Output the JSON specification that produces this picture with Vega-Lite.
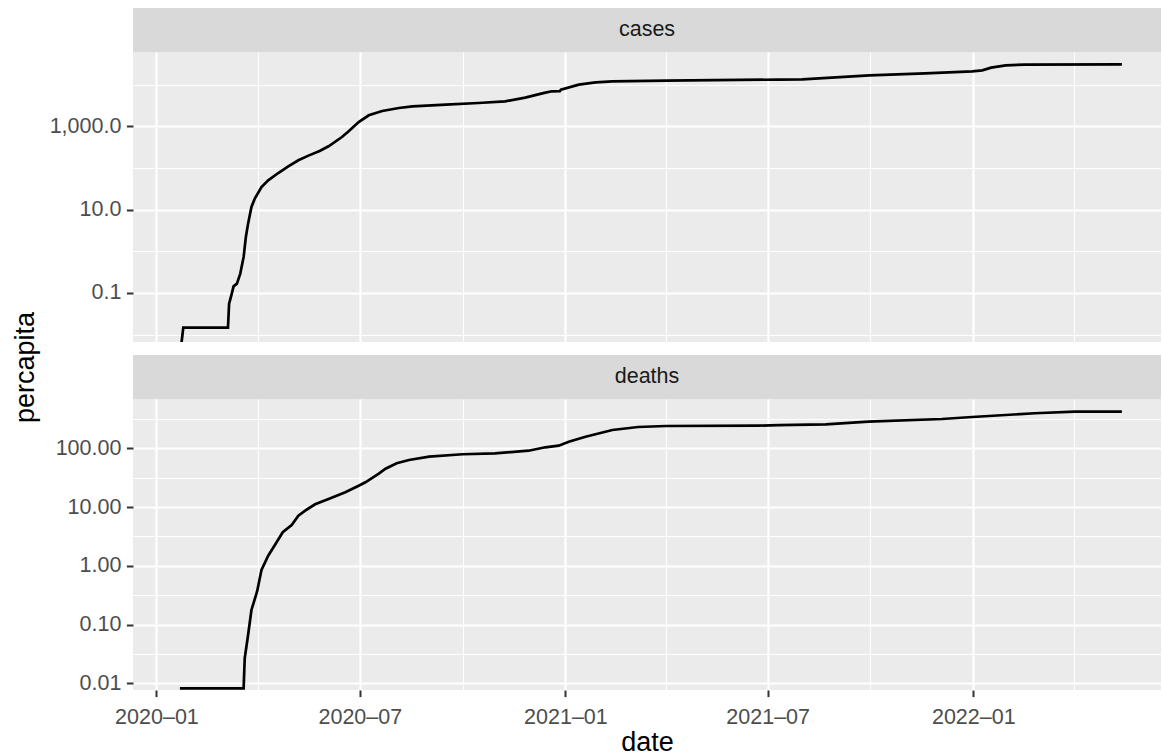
{
  "$schema": "https://vega.github.io/schema/vega-lite/v6.json",
  "padding": {"left": 12, "top": 8, "right": 0, "bottom": 0},
  "background": "white",
  "title": {"text": "percapita", "orient": "left", "anchor": "middle", "fontSize": 27, "fontWeight": "normal", "color": "black", "offset": 9, "dx": 14},
  "config": {
    "font": "Liberation Sans",
    "view": {"stroke": null, "fill": "#EBEBEB"},
    "concat": {"spacing": 9}
  },
  "datasets": {
    "strips": [{"panel": "cases"}, {"panel": "deaths"}],
    "covid": [
      {"date": "2020-01-22", "panel": "cases", "percapita": 0.003},
      {"date": "2020-01-25", "panel": "cases", "percapita": 0.0148},
      {"date": "2020-03-05", "panel": "cases", "percapita": 0.0148},
      {"date": "2020-03-06", "panel": "cases", "percapita": 0.0556},
      {"date": "2020-03-08", "panel": "cases", "percapita": 0.0879},
      {"date": "2020-03-10", "panel": "cases", "percapita": 0.1445},
      {"date": "2020-03-13", "panel": "cases", "percapita": 0.168},
      {"date": "2020-03-16", "panel": "cases", "percapita": 0.292},
      {"date": "2020-03-19", "panel": "cases", "percapita": 0.73},
      {"date": "2020-03-21", "panel": "cases", "percapita": 2.2},
      {"date": "2020-03-23", "panel": "cases", "percapita": 4.62},
      {"date": "2020-03-26", "panel": "cases", "percapita": 11.6},
      {"date": "2020-03-29", "panel": "cases", "percapita": 18.4},
      {"date": "2020-04-04", "panel": "cases", "percapita": 34.9},
      {"date": "2020-04-10", "panel": "cases", "percapita": 50.6},
      {"date": "2020-04-19", "panel": "cases", "percapita": 75.7},
      {"date": "2020-04-28", "panel": "cases", "percapita": 109.7},
      {"date": "2020-05-07", "panel": "cases", "percapita": 152.8},
      {"date": "2020-05-16", "panel": "cases", "percapita": 198},
      {"date": "2020-05-26", "panel": "cases", "percapita": 255},
      {"date": "2020-06-03", "panel": "cases", "percapita": 331},
      {"date": "2020-06-15", "panel": "cases", "percapita": 553},
      {"date": "2020-06-21", "panel": "cases", "percapita": 758},
      {"date": "2020-06-30", "panel": "cases", "percapita": 1268},
      {"date": "2020-07-09", "panel": "cases", "percapita": 1837},
      {"date": "2020-07-21", "panel": "cases", "percapita": 2328},
      {"date": "2020-08-05", "panel": "cases", "percapita": 2748},
      {"date": "2020-08-17", "panel": "cases", "percapita": 3020},
      {"date": "2020-09-16", "panel": "cases", "percapita": 3318},
      {"date": "2020-10-15", "panel": "cases", "percapita": 3623},
      {"date": "2020-11-08", "panel": "cases", "percapita": 3981},
      {"date": "2020-11-26", "panel": "cases", "percapita": 4887},
      {"date": "2020-12-14", "panel": "cases", "percapita": 6440},
      {"date": "2020-12-20", "panel": "cases", "percapita": 6918},
      {"date": "2020-12-27", "panel": "cases", "percapita": 6930},
      {"date": "2020-12-28", "panel": "cases", "percapita": 7605},
      {"date": "2021-01-13", "panel": "cases", "percapita": 10020},
      {"date": "2021-01-28", "panel": "cases", "percapita": 11380},
      {"date": "2021-02-12", "panel": "cases", "percapita": 12020},
      {"date": "2021-04-01", "panel": "cases", "percapita": 12500},
      {"date": "2021-07-11", "panel": "cases", "percapita": 13210},
      {"date": "2021-08-01", "panel": "cases", "percapita": 13420},
      {"date": "2021-09-30", "panel": "cases", "percapita": 16760},
      {"date": "2021-11-19", "panel": "cases", "percapita": 18710},
      {"date": "2021-12-31", "panel": "cases", "percapita": 20890},
      {"date": "2022-01-09", "panel": "cases", "percapita": 22080},
      {"date": "2022-01-17", "panel": "cases", "percapita": 25640},
      {"date": "2022-01-30", "panel": "cases", "percapita": 29110},
      {"date": "2022-02-16", "panel": "cases", "percapita": 30260},
      {"date": "2022-05-14", "panel": "cases", "percapita": 30500},
      {"date": "2020-01-22", "panel": "deaths", "percapita": 0.00822},
      {"date": "2020-03-19", "panel": "deaths", "percapita": 0.00822},
      {"date": "2020-03-20", "panel": "deaths", "percapita": 0.0267},
      {"date": "2020-03-23", "panel": "deaths", "percapita": 0.0664},
      {"date": "2020-03-26", "panel": "deaths", "percapita": 0.177},
      {"date": "2020-03-31", "panel": "deaths", "percapita": 0.362},
      {"date": "2020-04-04", "panel": "deaths", "percapita": 0.849},
      {"date": "2020-04-10", "panel": "deaths", "percapita": 1.486},
      {"date": "2020-04-16", "panel": "deaths", "percapita": 2.26},
      {"date": "2020-04-23", "panel": "deaths", "percapita": 3.72},
      {"date": "2020-05-01", "panel": "deaths", "percapita": 4.95},
      {"date": "2020-05-07", "panel": "deaths", "percapita": 7.12},
      {"date": "2020-05-14", "panel": "deaths", "percapita": 8.91},
      {"date": "2020-05-22", "panel": "deaths", "percapita": 11.14},
      {"date": "2020-06-03", "panel": "deaths", "percapita": 13.71},
      {"date": "2020-06-18", "panel": "deaths", "percapita": 17.82},
      {"date": "2020-06-30", "panel": "deaths", "percapita": 23.1},
      {"date": "2020-07-06", "panel": "deaths", "percapita": 26.4},
      {"date": "2020-07-18", "panel": "deaths", "percapita": 37.0},
      {"date": "2020-07-24", "panel": "deaths", "percapita": 45.0},
      {"date": "2020-08-03", "panel": "deaths", "percapita": 55.6},
      {"date": "2020-08-14", "panel": "deaths", "percapita": 63.2},
      {"date": "2020-09-01", "panel": "deaths", "percapita": 71.9},
      {"date": "2020-10-01", "panel": "deaths", "percapita": 79.1},
      {"date": "2020-10-30", "panel": "deaths", "percapita": 82.2},
      {"date": "2020-11-29", "panel": "deaths", "percapita": 91.0},
      {"date": "2020-12-14", "panel": "deaths", "percapita": 104.0},
      {"date": "2020-12-26", "panel": "deaths", "percapita": 110.7},
      {"date": "2021-01-04", "panel": "deaths", "percapita": 129.5},
      {"date": "2021-01-19", "panel": "deaths", "percapita": 157.5},
      {"date": "2021-02-12", "panel": "deaths", "percapita": 204.6},
      {"date": "2021-03-07", "panel": "deaths", "percapita": 230.6},
      {"date": "2021-04-01", "panel": "deaths", "percapita": 239.7},
      {"date": "2021-06-23", "panel": "deaths", "percapita": 243},
      {"date": "2021-07-11", "panel": "deaths", "percapita": 248},
      {"date": "2021-08-22", "panel": "deaths", "percapita": 256},
      {"date": "2021-09-29", "panel": "deaths", "percapita": 283.8},
      {"date": "2021-12-04", "panel": "deaths", "percapita": 315.3},
      {"date": "2021-12-31", "panel": "deaths", "percapita": 341},
      {"date": "2022-02-25", "panel": "deaths", "percapita": 394.6},
      {"date": "2022-04-02", "panel": "deaths", "percapita": 419.9},
      {"date": "2022-05-14", "panel": "deaths", "percapita": 421}
    ]
  },
  "spacing": 9,
  "vconcat": [
    {
      "spacing": 0,
      "vconcat": [
        {
          "data": {"name": "strips"},
          "transform": [{"filter": "datum.panel == 'cases'"}],
          "width": 1028,
          "height": 44,
          "view": {"fill": "#D9D9D9", "stroke": null},
          "mark": {"type": "text", "fontSize": 21.5, "color": "#1A1A1A", "baseline": "middle", "align": "center"},
          "encoding": {"text": {"field": "panel"}}
        },
        {
          "data": {"name": "covid"},
          "transform": [{"filter": "datum.panel == 'cases'"}],
          "width": 1028,
          "height": 290,
          "mark": {"type": "line", "color": "black", "strokeWidth": 2.7, "clip": true},
          "encoding": {
            "x": {
              "field": "date", "type": "temporal",
              "scale": {"domain": [{"year": 2019, "month": 12, "date": 11}, {"year": 2022, "month": 6, "date": 18}]},
              "axis": {
                "values": [{"year": 2020, "month": 1, "date": 1}, {"year": 2020, "month": 4, "date": 1}, {"year": 2020, "month": 7, "date": 1}, {"year": 2020, "month": 10, "date": 1}, {"year": 2021, "month": 1, "date": 1}, {"year": 2021, "month": 4, "date": 1}, {"year": 2021, "month": 7, "date": 1}, {"year": 2021, "month": 10, "date": 1}, {"year": 2022, "month": 1, "date": 1}, {"year": 2022, "month": 4, "date": 1}],
                "labels": false, "ticks": false, "domain": false, "title": null,
                "grid": true, "gridColor": "white", "gridOpacity": 1,
                "gridWidth": {"condition": {"test": "month(datum.value) % 6 == 0", "value": 2.2}, "value": 1.1}
              }
            },
            "y": {
              "field": "percapita", "type": "quantitative",
              "scale": {"type": "log", "domain": [0.00667, 60674], "nice": false},
              "axis": {
                "values": [0.01, 0.1, 1, 10, 100, 1000, 10000],
                "title": null, "domain": false,
                "grid": true, "gridColor": "white", "gridOpacity": 1,
                "gridWidth": {"condition": {"test": "abs(round(log(datum.value)/LN10)) % 2 == 1", "value": 2.2}, "value": 1.1},
                "ticks": true, "tickColor": "#333333", "tickWidth": 2, "tickSize": 6.6,
                "tickOpacity": {"condition": {"test": "abs(round(log(datum.value)/LN10)) % 2 == 1", "value": 1}, "value": 0},
                "labelExpr": "abs(round(log(datum.value)/LN10)) % 2 == 1 ? format(datum.value, ',.1f') : ''",
                "labelFontSize": 21.5, "labelColor": "#4D4D4D", "labelPadding": 5.5,
                "labelOverlap": false, "labelFlush": false, "labelBound": false
              }
            }
          }
        }
      ]
    },
    {
      "spacing": 0,
      "vconcat": [
        {
          "data": {"name": "strips"},
          "transform": [{"filter": "datum.panel == 'deaths'"}],
          "width": 1028,
          "height": 44,
          "view": {"fill": "#D9D9D9", "stroke": null},
          "mark": {"type": "text", "fontSize": 21.5, "color": "#1A1A1A", "baseline": "middle", "align": "center"},
          "encoding": {"text": {"field": "panel"}}
        },
        {
          "data": {"name": "covid"},
          "transform": [{"filter": "datum.panel == 'deaths'"}],
          "width": 1028,
          "height": 291,
          "mark": {"type": "line", "color": "black", "strokeWidth": 2.7, "clip": true},
          "encoding": {
            "x": {
              "field": "date", "type": "temporal",
              "scale": {"domain": [{"year": 2019, "month": 12, "date": 11}, {"year": 2022, "month": 6, "date": 18}]},
              "axis": {
                "values": [{"year": 2020, "month": 1, "date": 1}, {"year": 2020, "month": 4, "date": 1}, {"year": 2020, "month": 7, "date": 1}, {"year": 2020, "month": 10, "date": 1}, {"year": 2021, "month": 1, "date": 1}, {"year": 2021, "month": 4, "date": 1}, {"year": 2021, "month": 7, "date": 1}, {"year": 2021, "month": 10, "date": 1}, {"year": 2022, "month": 1, "date": 1}, {"year": 2022, "month": 4, "date": 1}],
                "title": "date", "titleFontSize": 27, "titleFontWeight": "normal", "titleColor": "black", "titlePadding": 1,
                "domain": false,
                "grid": true, "gridColor": "white", "gridOpacity": 1,
                "gridWidth": {"condition": {"test": "month(datum.value) % 6 == 0", "value": 2.2}, "value": 1.1},
                "ticks": true, "tickColor": "#333333", "tickWidth": 2, "tickSize": 6.6,
                "tickOpacity": {"condition": {"test": "month(datum.value) % 6 == 0", "value": 1}, "value": 0},
                "labelExpr": "month(datum.value) % 6 == 0 ? timeFormat(datum.value, '%Y–%m') : ''",
                "labelFontSize": 21.5, "labelColor": "#4D4D4D", "labelPadding": 10,
                "labelOverlap": false, "labelFlush": false, "labelBound": false
              }
            },
            "y": {
              "field": "percapita", "type": "quantitative",
              "scale": {"type": "log", "domain": [0.00769, 690.2], "nice": false},
              "axis": {
                "values": [0.01, 0.03162, 0.1, 0.3162, 1, 3.162, 10, 31.62, 100, 316.2],
                "title": null, "domain": false,
                "grid": true, "gridColor": "white", "gridOpacity": 1,
                "gridWidth": {"condition": {"test": "abs(log(datum.value)/LN10 - round(log(datum.value)/LN10)) < 0.1", "value": 2.2}, "value": 1.1},
                "ticks": true, "tickColor": "#333333", "tickWidth": 2, "tickSize": 6.6,
                "tickOpacity": {"condition": {"test": "abs(log(datum.value)/LN10 - round(log(datum.value)/LN10)) < 0.1", "value": 1}, "value": 0},
                "labelExpr": "abs(log(datum.value)/LN10 - round(log(datum.value)/LN10)) < 0.1 ? format(datum.value, ',.2f') : ''",
                "labelFontSize": 21.5, "labelColor": "#4D4D4D", "labelPadding": 5.5,
                "labelOverlap": false, "labelFlush": false, "labelBound": false
              }
            }
          }
        }
      ]
    }
  ]
}
